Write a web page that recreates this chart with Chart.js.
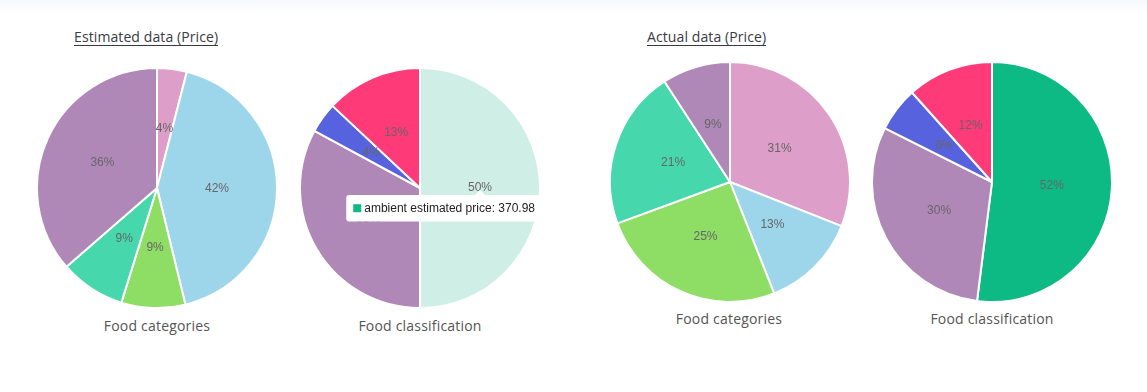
<!DOCTYPE html>
<html>
<head>
<meta charset="utf-8">
<script src="https://cdn.jsdelivr.net/npm/chart.js@4.4.0/dist/chart.umd.min.js"></script>
<style>
  html, body { margin: 0; padding: 0; background: #fff; }
  body { width: 1147px; height: 392px; position: relative; overflow: hidden; font-family: "Open Sans", "Lato", sans-serif; }
  .topbar { position: absolute; left: 0; top: 0; width: 1147px; height: 14px; background: linear-gradient(#f7f8fa, #fff); }
  .title { position: absolute; top: 28px; font-size: 14px; color: #3a3a44; border-bottom: 1px solid #3a3a44; line-height: 17px; letter-spacing: 0.1px; }
  .caption { position: absolute; font-size: 14px; color: #555; text-align: center; width: 200px; letter-spacing: 0.2px; }
  canvas { position: absolute; }
</style>
</head>
<body>
<div class="topbar"></div>

<div class="title" style="left:74px">Estimated data (Price)</div>
<div class="title" style="left:647px">Actual data (Price)</div>

<canvas id="estCat" width="242" height="242" style="left:36px; top:67px"></canvas>
<canvas id="estClass" width="242" height="242" style="left:299px; top:67px"></canvas>
<canvas id="actCat" width="242" height="242" style="left:609px; top:61px"></canvas>
<canvas id="actClass" width="242" height="242" style="left:871px; top:61px"></canvas>

<div class="caption" style="left:57px; top:316px">Food categories</div>
<div class="caption" style="left:320px; top:316px">Food classification</div>
<div class="caption" style="left:629px; top:309px">Food categories</div>
<div class="caption" style="left:892px; top:309px">Food classification</div>

<script>
// --- data ---
const categoryLabels = ['Bakery', 'Fruit & vegetables', 'Dairy', 'Meat & fish', 'Dry goods'];
const categoryColors = ['#dd9fc9', '#9dd6ea', '#8edd65', '#46d8ac', '#b088b8'];
const estCategoryValues = [29.7, 313.1, 63.8, 65.3, 270.06];
const actCategoryValues = [251.8, 105.6, 206.4, 173.9, 74.7];

const classLabels = ['ambient', 'chilled', 'frozen', 'fresh'];
const classColors = ['#0dba84', '#b088b8', '#5763de', '#ff3a78'];
const classHoverColors = ['#cfeee5', '#b088b8', '#5763de', '#ff3a78'];
const estClassValues = [370.98, 244.1, 30.4, 96.48];
const actClassValues = [422.4, 247.0, 48.7, 94.3];

// --- percentage labels ---
const pctLabels = {
    id: 'pctLabels',
    afterDatasetsDraw(chart) {
        const ctx = chart.ctx;
        const meta = chart.getDatasetMeta(0);
        const vals = chart.data.datasets[0].data;
        const total = vals.reduce((a, b) => a + b, 0);
        ctx.save();
        ctx.font = '12px Arial, "Liberation Sans", sans-serif';
        ctx.fillStyle = '#666';
        ctx.textAlign = 'center';
        ctx.textBaseline = 'middle';
        meta.data.forEach((arc, i) => {
            const p = arc.tooltipPosition();
            ctx.fillText(Math.round(vals[i] / total * 100) + '%', p.x, p.y);
        });
        ctx.restore();
    }
};

function makePie(id, labels, values, colors, hoverColors, priceName) {
    return new Chart(document.getElementById(id), {
        type: 'pie',
        data: {
            labels: labels,
            datasets: [{
                label: priceName,
                data: values,
                backgroundColor: colors,
                hoverBackgroundColor: hoverColors || colors,
                borderColor: '#fff',
                hoverBorderColor: '#fff',
                borderWidth: 2,
                hoverOffset: 0
            }]
        },
        options: {
            responsive: false,
            animation: false,
            events: [],
            plugins: {
                legend: { display: false },
                tooltip: {
                    backgroundColor: '#fff',
                    bodyColor: '#222',
                    bodyFont: { family: 'Arial, "Liberation Sans", sans-serif', size: 12 },
                    padding: 6,
                    cornerRadius: 3,
                    boxWidth: 10,
                    boxHeight: 10,
                    caretSize: 5,
                    xAlign: 'center',
                    yAlign: 'top',
                    callbacks: {
                        title: () => '',
                        label: (c) => `${c.label} ${priceName}: ${c.raw}`
                    }
                }
            }
        },
        plugins: [pctLabels]
    });
}

makePie('estCat', categoryLabels, estCategoryValues, categoryColors, null, 'estimated price');
const estClassChart = makePie('estClass', classLabels, estClassValues, classColors, classHoverColors, 'estimated price');
makePie('actCat', categoryLabels, actCategoryValues, categoryColors, null, 'actual price');
makePie('actClass', classLabels, actClassValues, classColors, null, 'actual price');

// hovered "ambient" slice with its tooltip
const active = [{ datasetIndex: 0, index: 0 }];
estClassChart.setActiveElements(active);
estClassChart.tooltip.setActiveElements(active, { x: 180, y: 121 });
estClassChart.update();
</script>
</body>
</html>
